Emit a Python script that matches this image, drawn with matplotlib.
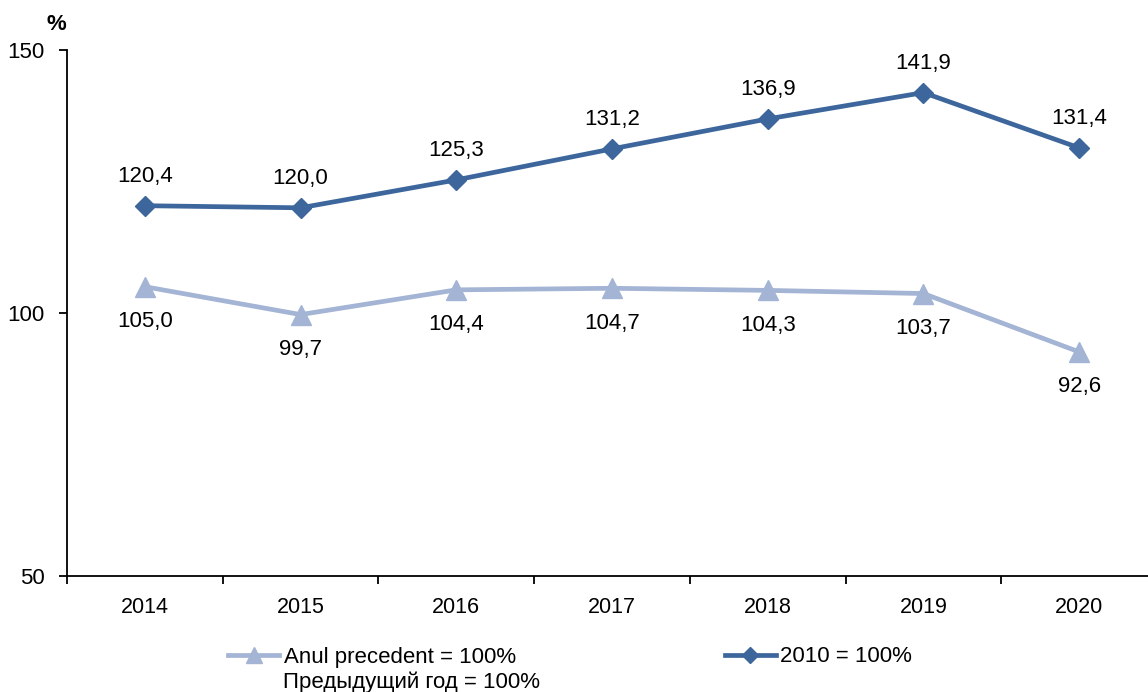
import numpy as np
import matplotlib.pyplot as plt
from matplotlib.ticker import FixedLocator, NullFormatter

plt.rcParams['font.family'] = ['Liberation Sans', 'DejaVu Sans']

years = ["2014", "2015", "2016", "2017", "2018", "2019", "2020"]
base_2010 = [120.4, 120.0, 125.3, 131.2, 136.9, 141.9, 131.4]
prev_year = [105.0, 99.7, 104.4, 104.7, 104.3, 103.7, 92.6]
label_prev = "Anul precedent = 100%"
label_prev_ru = "Предыдущий год = 100%"
label_base = "2010 = 100%"

dark = "#3d679c"
light = "#a4b4d4"

fig = plt.figure(figsize=(11.48, 6.92), dpi=100)
ax = fig.add_axes([67 / 1148, 1 - 576 / 692, 1090 / 1148, 526 / 692])

x = np.arange(len(years))
ax.plot(x, prev_year, color=light, lw=3.4, marker="^", ms=14,
        label=label_prev, zorder=3)
ax.plot(x, base_2010, color=dark, lw=3.4, marker="D", ms=10,
        label=label_base, zorder=4)

def fmt(v):
    return f"{v:.1f}".replace(".", ",")

# data labels: index above, previous year below
for xi, v in zip(x, base_2010):
    ax.annotate(fmt(v), (xi, v), xytext=(0, 21), textcoords="offset points",
                ha="center", va="center", fontsize=16)
for xi, v in zip(x, prev_year):
    ax.annotate(fmt(v), (xi, v), xytext=(0, -25), textcoords="offset points",
                ha="center", va="center", fontsize=16)

ax.set_xlim(-0.5, 6.5)
ax.set_ylim(50, 150)
ax.set_yticks([50, 100, 150])
ax.set_xticks(x)
ax.set_xticklabels(years)
ax.xaxis.set_minor_locator(FixedLocator(np.arange(-0.5, 7, 1)))
ax.xaxis.set_minor_formatter(NullFormatter())
ax.tick_params(axis="x", which="major", length=0, pad=15, labelsize=15.5)
ax.tick_params(axis="x", which="minor", length=6, width=1.3, direction="out")
ax.tick_params(axis="y", length=6, width=1.3, direction="out",
               labelsize=16, pad=10)
for side in ["top", "right"]:
    ax.spines[side].set_visible(False)
for side in ["left", "bottom"]:
    ax.spines[side].set_linewidth(1.3)

fig.text(56 / 1148, 1 - 25 / 692, "%", fontsize=16, fontweight="bold",
         ha="center", va="center")

leg = fig.legend(loc="center left", bbox_to_anchor=(228 / 1148, 1 - 657 / 692),
                 ncol=2, frameon=False, fontsize=16, handlelength=2.3,
                 handletextpad=0.2, columnspacing=9.4, borderaxespad=0,
                 borderpad=0)
# smaller markers in the legend
leg.legend_handles[0].set_markersize(11)
leg.legend_handles[1].set_markersize(8)
fig.text(283 / 1148, 1 - 682 / 692, label_prev_ru, fontsize=16,
         ha="left", va="center")

fig.savefig("out.png", dpi=100)
